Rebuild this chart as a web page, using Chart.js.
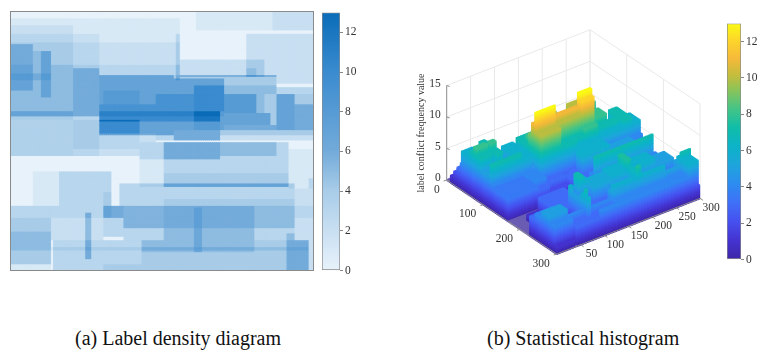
<!DOCTYPE html>
<html><head><meta charset="utf-8">
<style>
html,body{margin:0;padding:0;background:#fff;width:765px;height:357px;overflow:hidden;font-family:"Liberation Serif",serif}
.box{position:absolute}
canvas{display:block}
#heat,#hist{filter:blur(0.6px)}
.cap{position:absolute;top:327px;font-size:20px;color:#111;white-space:nowrap;font-family:"Liberation Serif",serif}
</style>
<script src="https://cdn.jsdelivr.net/npm/chart.js@4/dist/chart.umd.min.js"></script>
</head><body>
<div class="box" style="left:11px;top:12px;width:302px;height:258px;outline:1px solid #8a8a8a"><canvas id="heat" width="302" height="258"></canvas></div>
<div class="box" style="left:320px;top:6px;width:44px;height:271px"><canvas id="barA" width="44" height="271"></canvas></div>
<div class="box" style="left:400px;top:10px;width:325px;height:290px"><canvas id="hist" width="325" height="290"></canvas></div>
<div class="box" style="left:725px;top:17px;width:40px;height:249px"><canvas id="barB" width="40" height="249"></canvas></div>
<div class="cap" style="left:75px">(a) Label density diagram</div>
<div class="cap" style="left:487px">(b) Statistical histogram</div>
<script>
// label boxes: [x0, x1, y0, y1, count]  (image axes 0-300)
const densityBoxes = [
[0,169,9,36,1],[184,300,0,22,1],[260,300,0,22,1],[0,63,17,168,1],[0,88,26,168,1],
[88,169,36,63,2],[165,169,27,80,2],[63,88,36,63,2],[0,63,36,63,2],[0,23,39,92,2],
[31,41,47,100,2],[23,41,47,63,1],[0,41,73,80,1],[0,88,63,117,3],[63,88,67,117,2],[0,88,117,122,3],
[0,88,117,127,2],[0,63,127,168,1.5],[63,128,127,160,3],[63,128,160,168,2],
[88,264,75,145,4],[88,169,63,75,3],[169,252,57,77,2],[235,244,67,77,1],
[88,162,75,143,3],[93,128,92,108,1],[88,144,108,117,2],[88,162,117,129,3],[144,162,108,117,2],[88,212,117,122,1],
[144,162,96,108,2],[162,212,78,139,3],[162,182,96,129,2],[182,212,87,117,3],
[182,209,117,129,5],[182,209,129,139,1],[162,182,117,129,1],
[212,244,96,119,4],[212,259,119,133,3],[212,264,133,139,2],[244,252,96,119,1],[212,264,87,96,1],
[162,209,139,150,2],[162,209,145,150,4],[144,162,143,150,3],[128,144,143,152,2],[209,300,145,150,2],
[264,283,96,139,7],[283,300,108,139,6],[264,300,88,96,3],[283,300,96,108,4],[264,300,139,145,4],
[235,300,27,77,2],[264,300,77,84,2],[209,264,152,168,5],[264,277,152,172,3],
[128,152,152,172,3],[128,152,172,205,1],[152,209,152,172,6],[152,277,172,189,3],[152,277,189,205,4],
[209,264,168,172,3],[277,300,160,207,1],
[23,101,187,226,1],[48,101,187,226,2],[108,282,201,226,3],[92,101,210,240,1],
[0,113,226,240,3],[0,40,240,294,4],[0,40,257,279,1],[0,40,294,300,1],[40,92,240,267,2],
[75,81,234,288,3],[92,113,226,263,3],[42,131,267,300,3],[131,297,267,300,4],[93,131,294,300,1],
[40,297,275,279,1],[113,152,226,253,5.5],[152,242,226,253,6],[152,282,218,226,1],[242,282,226,253,5],
[282,297,207,259,2],[282,300,226,240,1],[113,282,253,267,3],[152,242,253,267,2],
[275,297,259,300,2],[182,191,228,281,1.5],[131,242,267,281,1],[297,300,195,300,2]
];
const colorTicks = [0,2,4,6,8,10,12];
const uTicks = [0,100,200,300];
const vTicks = [50,100,150,200,250,300];
const zTicks = [0,5,10,15];
const zTitle = 'label conflict frequency value';
const blueStops = [[0,'#e8f2fb'],[0.31,'#a8cce8'],[0.46,'#73abda'],[0.77,'#3a8bcf'],[1,'#0a6cb8']];
const parulaStops = [[0,'#3e26a8'],[0.08,'#4433d0'],[0.16,'#4650ee'],[0.24,'#3f70f8'],[0.32,'#2d8cf0'],[0.4,'#1ea5dc'],[0.48,'#0cb3c8'],[0.56,'#10bda8'],[0.64,'#45c486'],[0.72,'#8cc458'],[0.78,'#c4bd3c'],[0.85,'#f5b93a'],[0.92,'#fcd22c'],[1,'#faf915']];
const MAXV = 13;

function hex(c){return [1,3,5].map(i=>parseInt(c.substr(i,2),16));}
function ramp(stops,t){
  t=Math.max(0,Math.min(1,t));
  for(let i=1;i<stops.length;i++){
    if(t<=stops[i][0]){
      const a=stops[i-1],b=stops[i],f=(t-a[0])/(b[0]-a[0]),A=hex(a[1]),B=hex(b[1]);
      return 'rgb('+A.map((v,k)=>Math.round(v+(B[k]-v)*f)).join(',')+')';
    }
  }
  return stops[stops.length-1][1];
}
function countAt(x,y){
  let n=0;
  for(const b of densityBoxes){ if(x>=b[0]&&x<b[1]&&y>=b[2]&&y<b[3]) n+=b[4]; }
  return Math.min(n,MAXV);
}
Chart.defaults.animation=false;
Chart.defaults.events=[];
Chart.defaults.responsive=false;
Chart.defaults.plugins.legend.display=false;
Chart.defaults.plugins.tooltip.enabled=false;
Chart.defaults.font.family='"Liberation Serif",serif';

/* ---------- (a) density map ---------- */
const hp=[],hc=[];
for(let y=1;y<300;y+=2){for(let x=1;x<300;x+=2){
  hp.push({x,y}); hc.push(ramp(blueStops,countAt(x,y)/MAXV));
}}
new Chart(document.getElementById('heat'),{type:'scatter',
  data:{datasets:[{data:hp,pointStyle:'rect',pointRadius:1.9,pointBorderWidth:0,pointBackgroundColor:hc}]},
  options:{layout:{padding:0,autoPadding:false},scales:{
    x:{type:'linear',min:0,max:300,display:false},
    y:{type:'linear',min:0,max:300,reverse:true,display:false}}}
});

/* ---------- colour bars ---------- */
function colorBar(id,stops,pad){
  new Chart(document.getElementById(id),{type:'bar',
    data:{labels:['v'],datasets:[{data:[[0,MAXV]],barPercentage:1,categoryPercentage:1,borderSkipped:false,
      borderWidth:1,borderColor:'#8a8a8a',
      backgroundColor(c){
        const a=c.chart.chartArea; if(!a) return '#888';
        const g=c.chart.ctx.createLinearGradient(0,a.bottom,0,a.top);
        stops.forEach(s=>g.addColorStop(s[0],ramp(stops,s[0])));
        return g;
      }}]},
    options:{layout:{padding:{top:pad,bottom:pad,left:2,right:0}},scales:{
      x:{display:false},
      y:{position:'right',min:0,max:MAXV,
        afterFit(s){s.width=24;s.paddingTop=0;s.paddingBottom=0;},
        border:{display:false},
        grid:{drawOnChartArea:false,tickLength:3,color:'#888'},
        ticks:{stepSize:2,includeBounds:false,padding:2,color:'#333',font:{size:11.5},
          callback:v=>colorTicks.includes(v)?String(v):''}}}}
  });
}
colorBar('barA',blueStops,6.5);
colorBar('barB',parulaStops,6.5);

/* ---------- (b) projected 3D histogram ---------- */
const OX=46.7,OY=170,UX=0.3667,UY=0.2467,VX=0.4778,VY=-0.1856,ZY=-6.3;
function P(u,v,z){return {x:OX+u*UX+v*VX,y:OY+u*UY+v*VY+z*ZY};}
const STEP=3,ZSTEP=0.25;
const vp=[],vc=[];
const heights=(u,v)=>(u<0||u>=300||v<0||v>=300)?0:countAt(v,u);
for(let u=STEP/2;u<300;u+=STEP){
  for(let v=300-STEP/2;v>0;v-=STEP){
    const h=heights(u,v);
    if(h===0){ vp.push(P(u,v,0)); vc.push('#6a5db4'); continue; }
    const front=Math.min(heights(u+STEP,v),heights(u,v-STEP));
    const start=Math.max(0,front-1);
    for(let z=start;z<h;z+=ZSTEP){ vp.push(P(u,v,z)); vc.push(ramp(parulaStops,z/MAXV)); }
    vp.push(P(u,v,h)); vc.push(ramp(parulaStops,h/MAXV));
  }
}
function seg(a,b,color,order){return {type:'line',data:[a,b],borderColor:color,borderWidth:1,pointRadius:0,order,parsing:false};}
const WALL='#e9e9e9',AXIS='#8c8c8c';
const lines=[];
zTicks.forEach(z=>{
  lines.push(seg(P(0,0,z),P(0,300,z),WALL,3));
  lines.push(seg(P(0,300,z),P(300,300,z),WALL,3));
});
vTicks.forEach(v=>{ lines.push(seg(P(0,v,0),P(0,v,15),WALL,3)); });
uTicks.forEach(u=>{ lines.push(seg(P(u,300,0),P(u,300,15),WALL,3)); });
lines.push(seg(P(300,0,0),P(300,300,0),AXIS,0));
lines.push(seg(P(0,0,0),P(300,0,0),AXIS,0));
lines.push(seg(P(0,0,0),P(0,0,15),AXIS,0));
zTicks.forEach(z=>{const a=P(0,0,z);lines.push(seg(a,{x:a.x+3,y:a.y+1},AXIS,0));});
uTicks.forEach(u=>{const a=P(u,0,0);lines.push(seg(a,{x:a.x-3,y:a.y+1},AXIS,0));});
vTicks.forEach(v=>{const a=P(300,v,0);lines.push(seg(a,{x:a.x+3,y:a.y+2},AXIS,0));});

const axisText={id:'axisText',afterDraw(ch){
  const c=ch.ctx,sx=ch.scales.x,sy=ch.scales.y;
  c.save();c.fillStyle='#333';c.font='11.5px "Liberation Serif",serif';c.textBaseline='middle';
  const put=(t,p,dx,dy,al)=>{c.textAlign=al;c.fillText(String(t),sx.getPixelForValue(p.x)+dx,sy.getPixelForValue(p.y)+dy);};
  uTicks.forEach(u=>put(u,P(u,0,0),-7,9.5,'right'));
  vTicks.forEach(v=>put(v,P(300,v,0),11,9.5,'center'));
  zTicks.forEach(z=>put(z,P(0,0,z),-6,-2,'right'));
  c.font='10px "Liberation Serif",serif';
  c.translate(21.7,123);c.rotate(-Math.PI/2);c.textAlign='center';c.fillText(zTitle,0,0);
  c.restore();
}};
new Chart(document.getElementById('hist'),{type:'scatter',
  data:{datasets:[{data:vp,order:1,showLine:false,pointStyle:'rect',pointRadius:1.9,pointBorderWidth:0,pointBackgroundColor:vc,clip:false},...lines]},
  options:{layout:{padding:0,autoPadding:false},scales:{
    x:{type:'linear',min:0,max:325,display:false},
    y:{type:'linear',min:0,max:290,reverse:true,display:false}}},
  plugins:[axisText]
});
</script>
</body></html>
